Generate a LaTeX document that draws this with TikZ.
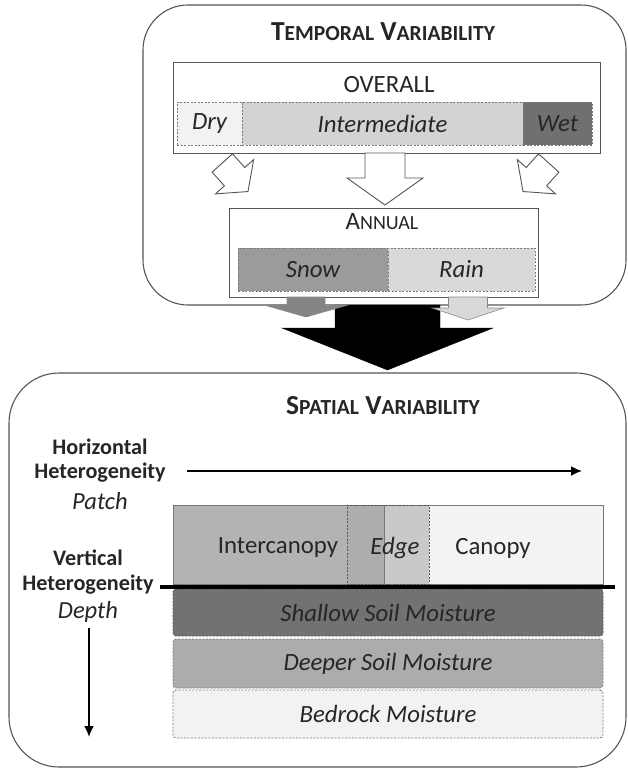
\documentclass[tikz,border=0pt]{standalone}
\usepackage{fontspec}
\setmainfont{Carlito}
\usetikzlibrary{arrows.meta}
\definecolor{frame}{HTML}{555555}
\definecolor{dashc}{HTML}{7A7A7A}
\definecolor{cdry}{HTML}{F2F2F2}
\definecolor{cmid}{HTML}{D3D3D3}
\definecolor{cwet}{HTML}{707070}
\definecolor{csnow}{HTML}{9B9B9B}
\definecolor{crain}{HTML}{D9D9D9}
\definecolor{csnowarr}{HTML}{858585}
\definecolor{cinter}{HTML}{B3B3B3}
\definecolor{cedgea}{HTML}{ADADAD}
\definecolor{cedgeb}{HTML}{C9C9C9}
\definecolor{ccan}{HTML}{F3F3F3}
\definecolor{cshal}{HTML}{727272}
\definecolor{cdeep}{HTML}{ACACAC}
\definecolor{cbed}{HTML}{F2F2F2}
\definecolor{txt}{HTML}{262626}
\newcommand{\mysc}[2]{{\fontsize{27.5}{30}\selectfont #1}{\fontsize{21.5}{24}\selectfont #2}}
\newcommand{\annsc}[2]{{\fontsize{25}{30}\selectfont #1}{\fontsize{20}{24}\selectfont #2}}
\newcommand{\bigfont}{\fontsize{24.8}{28}\selectfont}
\newcommand{\labfont}{\fontsize{22.2}{26}\selectfont}
\newcommand{\itlabfont}{\fontsize{24.5}{28}\selectfont}
\newcommand{\blockarrow}[8]{%
  \draw[#1, shift={(#2,#3)}, rotate=#4] (-#5,0) -- (-#5,#6) -- (-#7,#6) -- (0,#6+#8) -- (#7,#6) -- (#5,#6) -- (#5,0) -- cycle;}
\begin{document}
\begin{tikzpicture}[x=1pt,y=-1pt,
  font=\bigfont, text=txt,
  panel/.style={draw=frame, line width=1.1pt, rounded corners=45pt},
  framebox/.style={draw=frame, line width=0.9pt, inner sep=0pt, outer sep=0pt, fill=white},
  cell/.style={draw=dashc, line width=0.8pt, dash pattern=on 2pt off 1.5pt, inner sep=0pt, outer sep=0pt},
  plain/.style={inner sep=0pt, outer sep=0pt},
  hollow/.style={draw=frame, line width=0.9pt, fill=white, line join=miter},
  lab/.style={inner sep=0pt, font=\labfont\bfseries},
  labit/.style={inner sep=0pt, font=\itlabfont\itshape},
  axis/.style={line width=1.8pt, -{Latex[length=11pt,width=10pt]}}
]
\useasboundingbox (0,0) rectangle (628,769);

% ---------- Temporal panel ----------
\draw[panel] (143,5) rectangle (626,305);
\node[plain, font=\bfseries] (ttitle) at (383,32) {\mysc{T}{EMPORAL}\hspace{4pt} \mysc{V}{ARIABILITY}};

\node[framebox, minimum width=427pt, minimum height=91pt] (overall) at (386.5,107.5) {};
\node[plain] (overalltxt) at (389,85) {OVERALL};
\node[cell, fill=cdry, minimum width=65pt, minimum height=43pt] (dry) at (209.5,123.5) {\itshape Dry};
\node[cell, fill=cmid, minimum width=281pt, minimum height=43pt] (mid) at (382.5,123.5) {\itshape Intermediate};
\node[cell, fill=cwet, minimum width=69pt, minimum height=43pt] (wet) at (557.5,123.5) {\itshape Wet};

% hollow arrows
\blockarrow{hollow}{385}{153}{0}{20}{25}{38}{27}
\blockarrow{hollow}{548.7}{163}{-42}{13.7}{18.4}{25.7}{20}
\blockarrow{hollow}{222.3}{163}{42}{13.7}{18.4}{25.7}{20}

% big black arrow
\blockarrow{fill=black, draw=black}{387.5}{305}{0}{52.5}{23}{105.5}{42}

\node[framebox, minimum width=309pt, minimum height=89pt] (annual) at (383.5,252.5) {};
\node[plain] (annualtxt) at (382,222) {\annsc{A}{NNUAL}};
\node[cell, fill=csnow, minimum width=150pt, minimum height=43pt] (snow) at (313,269.5) {\itshape Snow};
\node[cell, fill=crain, minimum width=147pt, minimum height=43pt] (rain) at (461.5,269.5) {\itshape Rain};

\blockarrow{fill=csnowarr, draw=frame!70, line width=0.6pt}{306}{297}{0}{19}{8}{42}{12}
\blockarrow{fill=crain, draw=frame!70, line width=0.6pt}{468}{297}{0}{19.5}{11}{36}{12}

% ---------- Spatial panel ----------
\draw[panel, rounded corners=50pt] (9,373) rectangle (626,767);
\node[plain, font=\bfseries] (stitle) at (383,406) {\mysc{S}{PATIAL}\hspace{4pt} \mysc{V}{ARIABILITY}};

\node[lab] (h1) at (100,447) {Horizontal};
\node[lab] (h2) at (100,473) {Heterogeneity};
\node[labit] (h3) at (100,501) {Patch};
\coordinate (ha) at (187,471);
\coordinate (hb) at (582,471);
\draw[axis] (ha) -- (hb);

% patch row
\fill[cinter] (173,505) rectangle (347,584);
\fill[cedgea] (347,505) rectangle (384,584);
\fill[cedgeb] (384,505) rectangle (429,584);
\fill[ccan] (429,505) rectangle (603,584);
\draw[draw=frame!80, line width=0.8pt] (173,505) rectangle (603,584);
\node[cell, draw=frame, minimum width=82pt, minimum height=79pt] (edge) at (388,544.5) {};
\draw[draw=frame!80, line width=0.8pt] (edge.north -| 384,0) -- (edge.south -| 384,0);
\node[plain] (inter) at (278,548) {Intercanopy};
\node[plain] (edgetxt) at (395,548) {\itshape Edge};
\node[plain] (canopy) at (493,548) {Canopy};

% depth layers
\node[cell, draw=frame, fill=cshal, minimum width=430pt, minimum height=47pt, rounded corners=3pt] (shallow) at (388,612.5) {\itshape Shallow Soil Moisture};
\node[cell, fill=cdeep, minimum width=430pt, minimum height=49pt, rounded corners=3pt] (deeper) at (388,663.5) {\itshape Deeper Soil Moisture};
\node[cell, fill=cbed, minimum width=430pt, minimum height=48pt, rounded corners=3pt] (bedrock) at (388,714) {\itshape Bedrock Moisture};

% ground line
\coordinate (ga) at (160,587);
\coordinate (gb) at (615,587);
\draw[line width=4pt] (ga) -- (gb);

\node[lab] (v1) at (88,558) {Vertical};
\node[lab] (v2) at (88,585) {Heterogeneity};
\node[labit] (v3) at (88,612) {Depth};
\coordinate (da) at (89,628);
\coordinate (db) at (89,737);
\draw[axis] (da) -- (db);
\end{tikzpicture}
\end{document}
